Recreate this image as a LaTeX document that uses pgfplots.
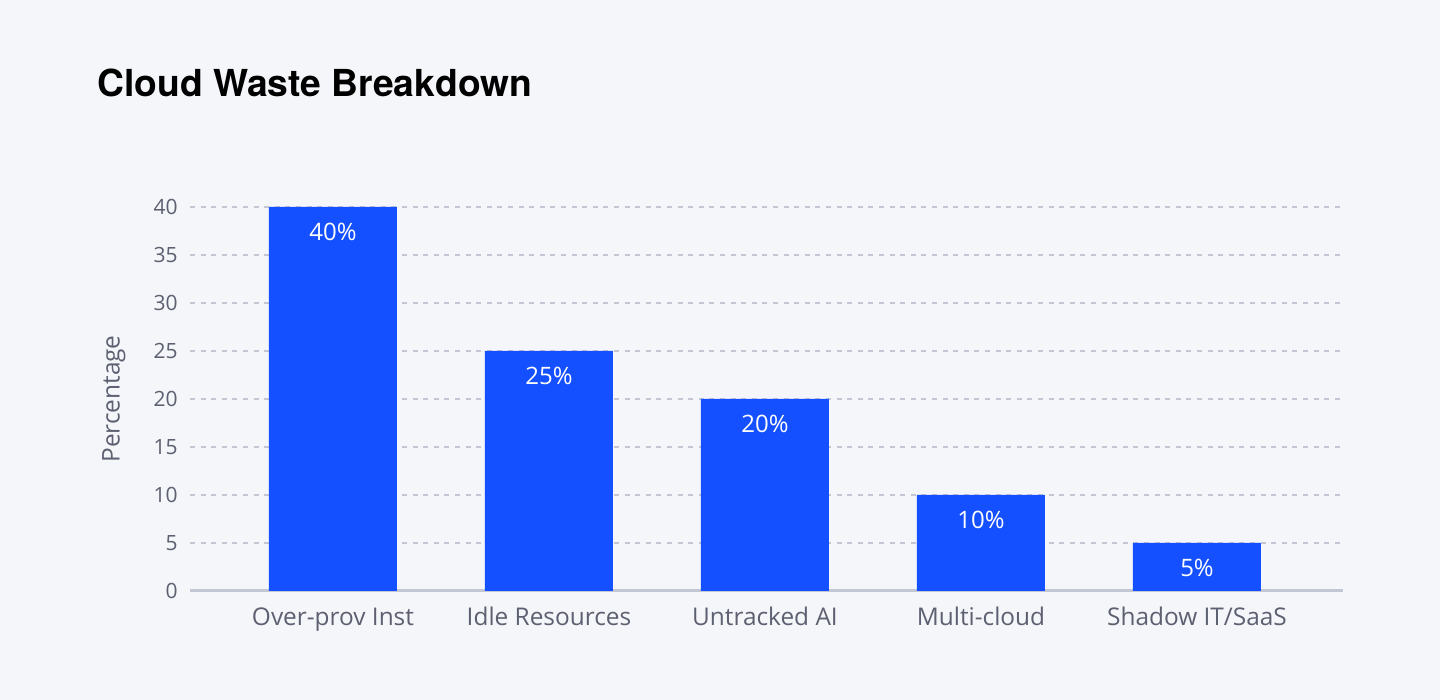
\documentclass[border=0pt]{standalone}
\usepackage{pgfplots}
\pgfplotsset{compat=1.18}
\usepackage{fontspec}
\setmainfont{Open Sans}
\newfontfamily\titlefont{TeX Gyre Heros}
\definecolor{bg}{HTML}{F5F6FA}
\definecolor{barc}{HTML}{1450FF}
\definecolor{gridc}{HTML}{C3C7D3}
\definecolor{tickc}{HTML}{5D6070}
\begin{document}
\begin{tikzpicture}[x=1pt,y=1pt]
\fill[bg] (0,0) rectangle (720,350);
\node[anchor=base west, inner sep=0pt, font=\titlefont\bfseries\fontsize{18.6}{20}\selectfont] at (48.5,301.8) {Cloud Waste Breakdown};
\begin{axis}[
  at={(95pt,54.5pt)}, anchor=south west,
  scale only axis, width=576.5pt, height=192pt,
  xmin=-0.662, xmax=4.676, ymin=0, ymax=40,
  ytick={5,10,...,40},
  extra y ticks={0},
  extra y tick style={grid style={solid, line width=1.5pt, draw=gridc}},
  xtick={0,1,2,3,4},
  xticklabels={Over-prov Inst, Idle Resources, Untracked AI, Multi-cloud, Shadow IT/SaaS},
  axis line style={draw=none},
  tick style={draw=none},
  ymajorgrids,
  grid style={dash pattern=on 2.5pt off 2.8pt, line width=1.25pt, draw=gridc},
  yticklabel style={font=\fontsize{10.5}{12}\selectfont, text=tickc, anchor=east, inner sep=0pt, xshift=-6pt},
  xticklabel style={font=\fontsize{12.2}{14}\selectfont, text=tickc, anchor=base, inner sep=0pt, yshift=-17.5pt},
  ylabel={Percentage},
  every axis y label/.style={at={(axis description cs:-0.066,0.5)}, rotate=90, anchor=center, font=\fontsize{12.2}{14}\selectfont, text=tickc},
  /pgf/number format/assume math mode=true,
  clip=false,
  nodes near coords={\pgfmathprintnumber{\pgfplotspointmeta}\%},
  every node near coord/.append style={text=white, font=\fontsize{12}{14}\selectfont, anchor=center, yshift=-12.5pt},
]
\addplot[ybar, bar width=64pt, fill=barc, draw=none] coordinates {(0,40) (1,25) (2,20) (3,10) (4,5)};
\end{axis}
\end{tikzpicture}
\end{document}
